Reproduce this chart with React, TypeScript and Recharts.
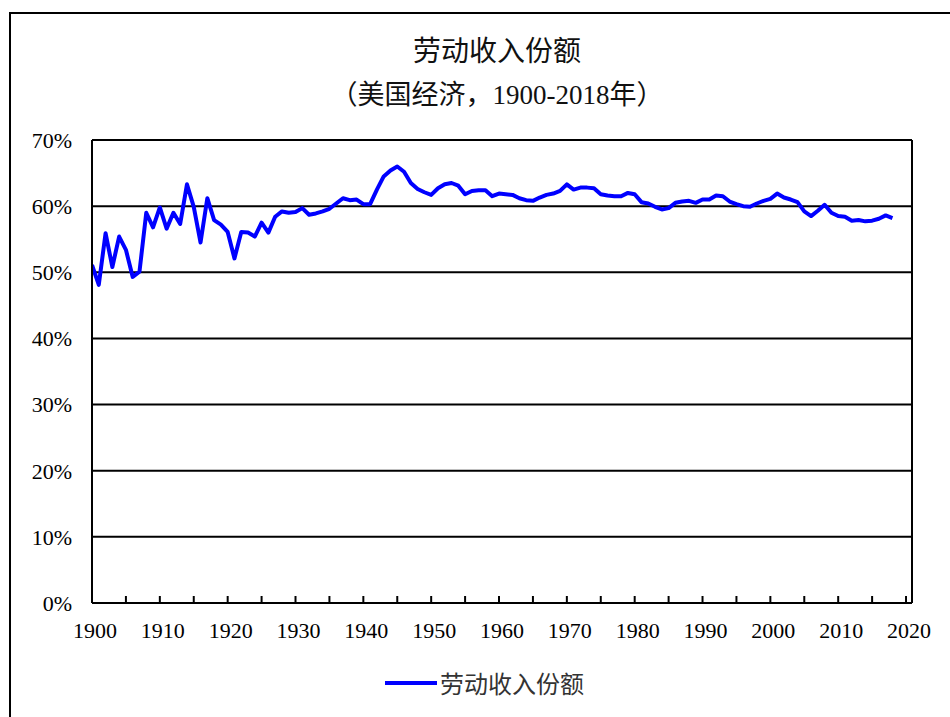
import React from 'react';
import { LineChart, Line, XAxis, YAxis, CartesianGrid, Legend, ReferenceLine } from 'recharts';

const START_YEAR = 1900;
const laborShare: number[] = [
  51.1, 48.1, 55.9, 50.8, 55.4, 53.4, 49.3, 50.1, 59.0, 56.8,
  59.8, 56.6, 59.0, 57.3, 63.3, 59.9, 54.5, 61.2, 57.9, 57.2,
  56.1, 52.1, 56.1, 56.0, 55.4, 57.5, 56.0, 58.4, 59.2, 59.0,
  59.1, 59.7, 58.7, 58.9, 59.2, 59.6, 60.4, 61.2, 60.9, 61.0,
  60.3, 60.3, 62.5, 64.5, 65.4, 66.0, 65.2, 63.5, 62.6, 62.1,
  61.7, 62.7, 63.3, 63.5, 63.1, 61.8, 62.3, 62.4, 62.4, 61.5,
  61.9, 61.8, 61.7, 61.2, 60.9, 60.8, 61.3, 61.7, 61.9, 62.3,
  63.3, 62.5, 62.8, 62.8, 62.7, 61.8, 61.6, 61.5, 61.5, 62.0,
  61.8, 60.6, 60.4, 59.9, 59.5, 59.7, 60.5, 60.7, 60.8, 60.5,
  61.0, 61.0, 61.6, 61.5, 60.7, 60.3, 60.0, 59.9, 60.4, 60.8,
  61.1, 61.9, 61.3, 61.0, 60.6, 59.2, 58.5, 59.3, 60.2, 59.0,
  58.5, 58.4, 57.8, 57.9, 57.7, 57.8, 58.1, 58.6, 58.2,
];
const xTicks: number[] = [
  1900, 1905, 1910, 1915, 1920, 1925, 1930, 1935, 1940, 1945, 1950, 1955, 1960,
  1965, 1970, 1975, 1980, 1985, 1990, 1995, 2000, 2005, 2010, 2015, 2020,
];
const yTicks: number[] = [0, 10, 20, 30, 40, 50, 60, 70];
const X_MAX = 2020.88;
const SERIES_NAME = '劳动收入份额';
const TITLE_1 = '劳动收入份额';
const TITLE_2 = '（美国经济，1900-2018年）';

const data = laborShare.map((v, i) => ({ year: START_YEAR + i, share: v }));

const NUM_FONT = "'Liberation Serif', 'Times New Roman', serif";
const TITLE_FONT = "'Liberation Serif', 'Noto Sans CJK SC', serif";

function XTick(props: any) {
  const { x, y, payload } = props;
  const v = payload.value as number;
  return (
    <g>
      <line x1={x} y1={y - 7} x2={x} y2={y} stroke="#000" strokeWidth={2} />
      {v % 10 === 0 && (
        <text x={x + 3} y={y + 19} dy="0.71em" textAnchor="middle" fontSize={22} fontFamily={NUM_FONT} fill="#000">
          {v}
        </text>
      )}
    </g>
  );
}

function LegendContent() {
  return (
    <div style={{ display: 'flex', alignItems: 'center', height: 30 }}>
      <svg width={52} height={10}>
        <line x1={0} y1={5} x2={52} y2={5} stroke="#0000FF" strokeWidth={4} />
      </svg>
      <span style={{ marginLeft: 3, fontSize: 24, fontFamily: "'Noto Sans CJK SC', sans-serif", color: '#333', lineHeight: '30px' }}>
        {SERIES_NAME}
      </span>
    </div>
  );
}

export default function App() {
  return (
    <div style={{ position: 'fixed', left: 0, top: 0, width: 950, height: 717, overflow: 'hidden', background: '#fff' }}>
      <div style={{ position: 'absolute', left: 9, top: 12, width: 1000, height: 800, border: '2px solid #000' }} />
      <div style={{ position: 'absolute', left: 197, top: 35, width: 600, textAlign: 'center', fontSize: 28, lineHeight: '34px', fontFamily: TITLE_FONT, color: '#111' }}>
        {TITLE_1}
      </div>
      <div style={{ position: 'absolute', left: 197, top: 78, width: 600, textAlign: 'center', fontSize: 27, lineHeight: '34px', fontFamily: TITLE_FONT, color: '#111' }}>
        {TITLE_2}
      </div>
      <div style={{ position: 'absolute', left: 0, top: 0 }}>
        <LineChart width={950} height={717} data={data} margin={{ top: 140, right: 38, bottom: 84, left: 0 }}>
          <CartesianGrid vertical={false} stroke="#000" strokeWidth={2} />
          <XAxis
            dataKey="year"
            type="number"
            domain={[START_YEAR, X_MAX]}
            ticks={xTicks}
            interval={0}
            allowDataOverflow
            height={30}
            tickSize={0}
            tickMargin={0}
            tickLine={false}
            axisLine={{ stroke: '#000', strokeWidth: 2 }}
            tick={<XTick />}
          />
          <YAxis
            type="number"
            domain={[0, 70]}
            ticks={yTicks}
            interval={0}
            width={92}
            tickSize={0}
            tickMargin={20}
            tickLine={false}
            axisLine={{ stroke: '#000', strokeWidth: 2 }}
            tickFormatter={(v: number) => `${v}%`}
            tick={{ fontSize: 22, fontFamily: NUM_FONT, fill: '#000' }}
          />
          <ReferenceLine x={X_MAX} stroke="#000" strokeWidth={2} />
          <Legend
            verticalAlign="middle"
            align="center"
            layout="horizontal"
            content={<LegendContent />}
            wrapperStyle={{ top: 668, left: 385, width: 'auto' }}
          />
          <Line
            type="linear"
            dataKey="share"
            name={SERIES_NAME}
            stroke="#0000FF"
            strokeWidth={4}
            dot={false}
            strokeLinejoin="round"
            isAnimationActive={false}
          />
        </LineChart>
      </div>
    </div>
  );
}
